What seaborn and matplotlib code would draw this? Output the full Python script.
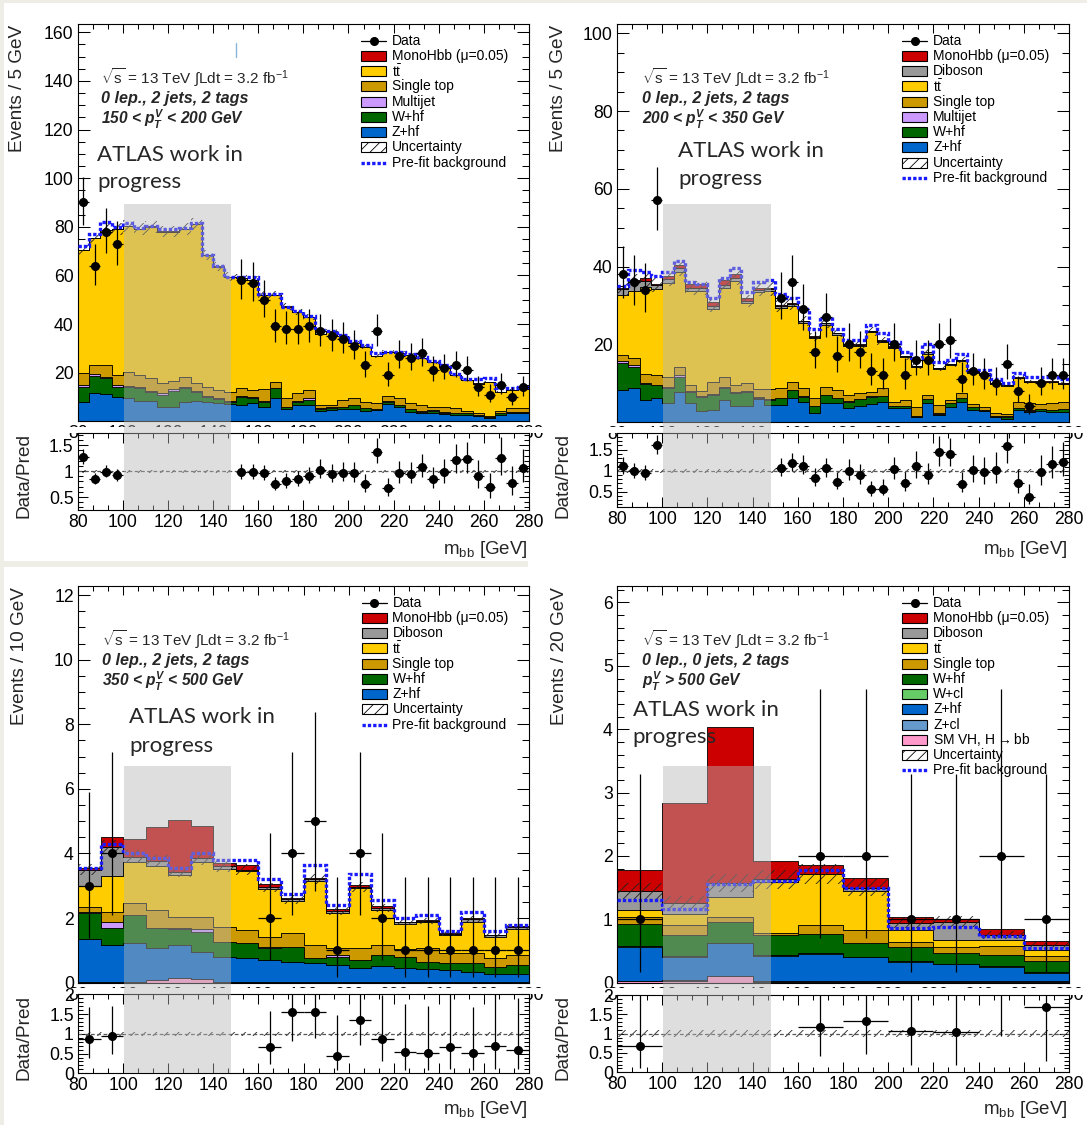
import numpy as np
import pandas as pd
import matplotlib
matplotlib.use("Agg")
import matplotlib.pyplot as plt
import matplotlib.transforms as mtransforms
from matplotlib.patches import Rectangle
from matplotlib.lines import Line2D
from matplotlib.ticker import MultipleLocator, FuncFormatter
import seaborn as sns

nan = np.nan

# ------------------------------------------------------------------
# 150 < pTV < 200 GeV, 5 GeV bins
EDGES_150 = np.arange(80, 281, 5)
ZHF_150 = [8.1, 11.8, 11.2, 9.9, 9.5, 8.5, 8.5, 6.0, 6.0, 8.0, 8.5, 8.0, 7.5, 7.0, 6.7, 7.4, 6.0, 9.7, 4.9, 6.7,
           6.7, 4.4, 4.7, 4.9, 4.9, 4.4, 4.7, 7.1, 6.0, 4.0, 3.3, 3.6, 3.0, 2.6, 2.6, 2.2, 1.2, 2.6, 3.3, 3.3]
WHF_150 = [6.2, 6.8, 6.5, 4.4, 4.5, 5.0, 3.5, 5.0, 6.5, 5.5, 3.5, 2.0, 1.5, 1.0, 3.4, 2.1, 2.1, 3.9, 0.9, 1.4,
           2.1, 0.8, 0.9, 0.9, 1.8, 0.9, 0.2, 1.0, 0.7, 0.9, 0.7, 0.8, 0.6, 0.7, 0.7, 0.4, 0.4, 0.7, 0.5, 0.5]
MJ_150 = [0.8, 0.7, 0.7, 0.6, 0.7, 0.6, 0.5, 0.5, 0.6, 0.6, 0.5, 0.4, 0.4, 0.3, 0.3, 0.3, 0.3, 0.3, 0.2, 0.2,
          0.8, 0.2, 0.2, 0.2, 0.2, 0.2, 0.2, 0.2, 0.2, 0.1, 0.1, 0.1, 0.1, 0.1, 0.1, 0.1, 0.1, 0.1, 0.1, 0.1]
STOP_150 = [4.9, 3.9, 4.8, 4.1, 5.7, 4.9, 5.2, 4.1, 3.6, 4.0, 3.1, 3.9, 3.5, 3.9, 3.2, 3.1, 4.8, 2.4, 3.5, 3.5,
            3.3, 1.3, 0.9, 2.8, 2.6, 2.6, 2.3, 2.1, 2.6, 2.4, 2.6, 1.5, 2.3, 1.9, 1.0, 0.9, 0.3, 1.0, 1.4, 1.4]
TTBAR_150 = [50.5, 52.1, 55.5, 60.0, 59.9, 60.0, 62.3, 62.4, 61.3, 60.9, 65.4, 54.1, 50.7, 47.3, 45.4, 45.1,
             38.8, 35.7, 37.7, 33.2, 30.1, 29.3, 30.2, 26.2, 22.5, 22.6, 19.5, 18.0, 18.5, 19.9, 19.2, 18.5,
             16.5, 13.7, 12.6, 11.9, 14.0, 7.6, 7.7, 7.9]
SIG_150 = [0.05] * 4 + [0.2] * 9 + [0.05] * 27
PREFIT_150 = [72, 77, 82, 80, 81.5, 79.5, 80.5, 79, 79, 79.5, 81.5, 68.5, 64, 59.5, 59.5, 59.5, 52.5, 52.5,
              47, 45.5, 43.5, 37.5, 37, 35.5, 33, 31.5, 28, 28.5, 28.5, 27.5, 26.5, 25, 23, 19.5, 17.5, 17.5,
              17.7, 13.5, 13.5, 14]
DATA_150 = [90, 64, 78, 73] + [nan] * 10 + [58, 57, 50, 39, 38, 38, 39, 37, 35, 34, 31, 23, 37, 19, 27, 26,
                                             28, 21, 22, 23, 21, 14, 11, 15, 10, 14]

# 200 < pTV < 350 GeV, 5 GeV bins
EDGES_200 = np.arange(80, 281, 5)
ZHF_200 = [8.2, 8.7, 5.7, 6.3, 5.0, 7.8, 4.8, 2.9, 3.1, 5.7, 4.1, 4.1, 5.8, 4.4, 4.4, 6.1, 5.2, 2.2, 4.8, 5.0,
           3.5, 4.1, 4.6, 5.2, 3.5, 3.5, 1.4, 4.8, 1.8, 3.9, 5.2, 3.1, 2.9, 1.2, 0.9, 3.1, 2.7, 2.9, 2.7, 2.7]
WHF_200 = [6.9, 5.5, 4.2, 3.2, 3.7, 3.9, 3.0, 3.6, 3.8, 3.0, 3.3, 3.7, 0.5, 1.3, 1.7, 2.1, 1.3, 1.9, 2.1, 1.1,
           1.7, 1.7, 1.9, 1.5, 0.6, 0.6, 0.1, 1.0, 0.3, 0.9, 0.9, 0.7, 0.2, 0.3, 0.5, 0.4, 0.2, 0.4, 0.4, 0.6]
MJ_200 = [0.5, 0.4, 0.1, 0.1, 0.4, 0.3, 0.2, 0.2, 0.2, 0.4, 0.4, 0.2, 0.2, 0.2] + [0.1] * 26
STOP_200 = [1.6, 1.8, 2.3, 2.5, 2.6, 2.1, 1.4, 1.3, 3.1, 2.6, 1.6, 2.0, 2.0, 2.7, 2.5, 2.1, 2.1, 1.9, 2.1, 2.0,
            1.6, 1.6, 1.2, 1.9, 1.0, 1.5, 2.2, 1.0, 2.2, 0.8, 1.3, 0.7, 0.6, 0.8, 0.6, 1.6, 1.8, 1.2, 1.6, 1.8]
TTBAR_200 = [15.5, 17.3, 22.4, 22.2, 24.0, 24.4, 24.3, 25.7, 18.9, 22.8, 26.8, 20.6, 24.9, 25.1, 20.7, 19.5,
             16.8, 15.4, 15.9, 14.3, 12.7, 12.1, 15.3, 11.9, 13.9, 10.9, 10.3, 10.7, 9.3, 9.0, 8.2, 8.1, 8.4,
             7.3, 7.1, 6.0, 5.4, 5.6, 5.4, 4.5]
DIB_200 = [1.5, 2.5, 1.5, 1.0, 1.0, 1.0, 0.8, 0.8, 0.7, 0.8, 0.8, 0.6, 0.6, 0.5, 0.5, 0.5, 0.4, 0.4, 0.4, 0.4,
           0.3, 0.3, 0.3, 0.3, 0.3, 0.3, 0.3, 0.3, 0.2, 0.2, 0.2, 0.2, 0.2, 0.2, 0.2, 0.2, 0.2, 0.2, 0.2, 0.2]
SIG_200 = [0.2, 0.3, 0.8, 0.2, 0.8, 1.0, 1.0, 1.0, 1.2, 1.2, 1.0, 0.8, 0.5, 0.3] + [0.1] * 26
PREFIT_200 = [35, 39, 38.5, 37.5, 38.5, 41.5, 36, 35.5, 32, 37, 39.5, 33.5, 36, 36.5, 33, 32, 29, 24, 27, 24,
              21, 21, 25, 23, 20.5, 18, 16.5, 20, 15.5, 16, 17.5, 13.5, 13.5, 11, 10, 12.5, 11.5, 11.5, 11.5, 11]
DATA_200 = [38, 36, 34, 57] + [nan] * 10 + [32, 36, 29, 18, 27, 17, 20, 18, 13, 12, 20, 12, 16, 16, 20, 21,
                                             11, 13, 12, 10, 15, 8, 4, 10, 12, 12]

# 350 < pTV < 500 GeV, 10 GeV bins
EDGES_350 = np.arange(80, 281, 10)
VH_350 = [0.02, 0.02, 0.03, 0.08, 0.15, 0.12, 0.03, 0.02] + [0.01] * 12
ZHF_350 = [1.32, 1.15, 1.19, 0.98, 1.02, 0.84, 0.77, 0.76, 0.69, 0.64, 0.59, 0.54, 0.43, 0.51, 0.46, 0.40,
           0.38, 0.33, 0.26, 0.26]
WHF_350 = [0.81, 0.51, 0.87, 0.62, 0.48, 0.62, 0.47, 0.44, 0.36, 0.46, 0.15, 0.25, 0.26, 0.34, 0.33, 0.24,
           0.23, 0.26, 0.23, 0.28]
MJ_350 = [0.05, 0.2, 0, 0, 0.03, 0.08, 0, 0, 0.05, 0, 0, 0.05, 0, 0, 0, 0, 0, 0, 0, 0]
STOP_350 = [0.15, 0.32, 0.37, 0.57, 0.36, 0.38, 0.46, 0.41, 0.31, 0.42, 0.42, 0.21, 0.36, 0.31, 0.23, 0.41,
            0.31, 0.31, 0.25, 0.31]
TTBAR_350 = [0.65, 1.1, 1.29, 1.37, 1.3, 1.71, 1.78, 1.82, 1.48, 1.0, 1.98, 1.11, 1.86, 1.07, 0.79, 0.81,
             0.54, 0.98, 0.67, 0.81]
DIB_350 = [0.5, 0.9, 0.15, 0.15, 0.1, 0.1, 0.1, 0.05, 0.05, 0.05, 0.05, 0.05, 0.05, 0.08, 0.05, 0.05, 0.05,
           0.08, 0.05, 0.05]
SIG_350 = [0.05, 0.3, 0.55, 1.05, 1.6, 1.0, 0.1, 0.15, 0.1, 0.05, 0.05, 0.05, 0.05, 0.05, 0.02, 0.02, 0.02,
           0.02, 0.02, 0.02]
PREFIT_350 = [3.55, 4.3, 4.0, 3.85, 3.55, 4.0, 3.8, 3.8, 3.2, 2.75, 3.65, 2.4, 3.35, 2.55, 2.0, 2.1, 1.6, 2.2,
              1.6, 1.8]
DATA_350 = [3, 4, nan, nan, nan, nan, nan, 0, 2, 4, 5, 1, 4, 2, 1, 1, 1, 1, 1, 1]

# pTV > 500 GeV, 20 GeV bins
EDGES_500 = np.arange(80, 281, 20)
VH_500 = [0.02, 0.03, 0.10, 0.01, 0.01, 0.01, 0.01, 0.01, 0.01, 0.01]
ZCL_500 = [0.01] * 10
ZHF_500 = [0.54, 0.37, 0.51, 0.40, 0.44, 0.38, 0.31, 0.27, 0.23, 0.14]
WCL_500 = [0.01] * 10
WHF_500 = [0.35, 0.33, 0.32, 0.32, 0.30, 0.22, 0.23, 0.17, 0.18, 0.18]
STOP_500 = [0.11, 0.16, 0.08, 0.03, 0.14, 0.20, 0.08, 0.09, 0.14, 0.07]
TTBAR_500 = [0.11, 0.18, 0.33, 0.81, 0.80, 0.61, 0.18, 0.12, 0.10, 0.10]
DIB_500 = [0.30, 0.16, 0.21, 0.04, 0.01, 0.06, 0.11, 0.28, 0.07, 0.07]
SIG_500 = [0.33, 1.58, 2.46, 0.29, 0.14, 0.15, 0.09, 0.05, 0.09, 0.07]
PREFIT_500 = [1.3, 1.17, 1.55, 1.6, 1.78, 1.49, 0.87, 0.88, 0.73, 0.54]
DATA_500 = [1, nan, nan, 0, 2, 2, 1, 1, 2, 1]

BLIND = (100.5, 148.0)

COLORS = {"MonoHbb": "#cc0000", "Diboson": "#999999", "ttbar": "#ffcc00", "Single top": "#cc9900",
          "Multijet": "#cc99ff", "W+hf": "#006600", "W+cl": "#66cc66", "Z+hf": "#0066cc",
          "Z+cl": "#6699cc", "SM VH": "#ff99cc"}
LABELS = {"MonoHbb": "MonoHbb (\u03bc=0.05)", "Diboson": "Diboson", "ttbar": r"$\mathrm{t\bar{t}}$",
          "Single top": "Single top", "Multijet": "Multijet", "W+hf": "W+hf", "W+cl": "W+cl",
          "Z+hf": "Z+hf", "Z+cl": "Z+cl", "SM VH": r"SM VH, H$\rightarrow$bb"}
PREFIT_COLOR = "#1a1aff"
BEIGE = "#efeee6"
GRAY_OVERLAY = "#b6b6b6"

sns.set_theme(style="white")
plt.rcParams["font.family"] = ["Liberation Sans", "DejaVu Sans"]
plt.rcParams["mathtext.fontset"] = "custom"
plt.rcParams["mathtext.rm"] = "Liberation Sans"
plt.rcParams["mathtext.it"] = "Liberation Sans:italic:bold"
plt.rcParams["mathtext.bf"] = "Liberation Sans:bold"
plt.rcParams["hatch.linewidth"] = 0.6

W, H = 1087, 1125
fig = plt.figure(figsize=(W / 100, H / 100), dpi=100)
fig.patch.set_facecolor("white")


def fx(x):
    return x / W


def fy(y):
    return 1 - y / H


def rect(l, r, t, b):
    return [l / W, 1 - b / H, (r - l) / W, (b - t) / H]


def poisson_interval(n):
    n = np.asarray(n, float)
    m = np.maximum(n, 1)
    lo = np.where(n > 0, n * (1 - 1 / (9 * m) - 1 / (3 * np.sqrt(m))) ** 3, 0.0)
    hi = (n + 1) * (1 - 1 / (9 * (n + 1)) + 1 / (3 * np.sqrt(n + 1))) ** 3
    return lo, hi


def draw_stack(ax, edges, procs):
    centers = 0.5 * (edges[:-1] + edges[1:])
    frames = [pd.DataFrame({"process": name, "mbb": centers, "events": np.asarray(vals, float)})
              for name, vals in procs]
    df = pd.concat(frames, ignore_index=True)
    order = [name for name, _ in procs]
    sns.histplot(data=df, x="mbb", weights="events", hue="process", hue_order=order,
                 multiple="stack", bins=[float(e) for e in edges], element="step", fill=True, alpha=1,
                 palette={n: COLORS[n] for n in order}, edgecolor="black", linewidth=0.6,
                 legend=False, ax=ax)
    ax.set_xlabel("")
    ax.set_ylabel("")


def style_ticks(ax, xlen, ylen):
    ax.xaxis.set_major_locator(MultipleLocator(20))
    ax.xaxis.set_minor_locator(MultipleLocator(20 / 3))
    ax.tick_params(which="both", direction="in", top=True, bottom=True, left=True, right=True,
                   colors="black", width=0.75, labelsize=12.7)
    ax.tick_params(axis="x", which="major", length=xlen[0], pad=3)
    ax.tick_params(axis="x", which="minor", length=xlen[1])
    ax.tick_params(axis="y", which="major", length=ylen[0], pad=3)
    ax.tick_params(axis="y", which="minor", length=ylen[1])
    fmt = FuncFormatter(lambda v, p: f"{v:g}")
    ax.xaxis.set_major_formatter(fmt)
    ax.yaxis.set_major_formatter(fmt)
    for s in ax.spines.values():
        s.set_color("black")
        s.set_linewidth(0.8)
        s.set_visible(True)


def draw_legend(x0, y0, entries, step=15.25):
    for i, (kind, key) in enumerate(entries):
        yc = y0 + i * step
        if kind == "data":
            fig.add_artist(Line2D([fx(x0), fx(x0 + 25)], [fy(yc), fy(yc)], color="black", lw=0.9))
            fig.add_artist(Line2D([fx(x0 + 12.5)], [fy(yc)], marker="o", color="black", ms=5.5))
            label = "Data"
        elif kind == "fill":
            fig.add_artist(Rectangle((fx(x0), fy(yc + 5)), 25 / W, 10 / H, facecolor=COLORS[key],
                                     edgecolor="black", lw=0.8))
            label = LABELS[key]
        elif kind == "unc":
            fig.add_artist(Rectangle((fx(x0), fy(yc + 5)), 25 / W, 10 / H, facecolor="white",
                                     edgecolor="black", hatch="///", lw=0.8))
            label = "Uncertainty"
        else:
            fig.add_artist(Line2D([fx(x0), fx(x0 + 25)], [fy(yc), fy(yc)], color=PREFIT_COLOR,
                                  lw=2.4, ls=(0, (1.0, 0.6))))
            label = "Pre-fit background"
        fig.text(fx(x0 + 31), fy(yc), label, fontsize=10, va="center", ha="left", color="black")


panels = [
    dict(edges=EDGES_150,
         procs=[("MonoHbb", SIG_150), ("ttbar", TTBAR_150), ("Single top", STOP_150),
                ("Multijet", MJ_150), ("W+hf", WHF_150), ("Z+hf", ZHF_150)],
         data=DATA_150, prefit=PREFIT_150, unc=0.03,
         main=(77.7, 529, 24, 421.3), ratio=(433.3, 510), cover=(4, 545, 426.5),
         ylim=(0, 163.4), yticks=np.arange(20, 161, 20), yminor=5, rlim=(0.25, 1.73),
         rticks=[0.5, 1, 1.5], blind_top=89.4,
         legend=(361, 40.7, [("data", None), ("fill", "MonoHbb"), ("fill", "ttbar"),
                             ("fill", "Single top"), ("fill", "Multijet"), ("fill", "W+hf"),
                             ("fill", "Z+hf"), ("unc", None), ("line", None)]),
         info=(100.8, [77, 98.3, 119.3], "0 lep., 2 jets, 2 tags", r"150 < $p_T^V$ < 200 GeV"),
         atlas=(97.3, 160.7, 188.3),
         ytitle=("Events / 5 GeV", 18, 25), rtitle=(23.5, 433), xtitle=(528, 550)),
    dict(edges=EDGES_200,
         procs=[("MonoHbb", SIG_200), ("Diboson", DIB_200), ("ttbar", TTBAR_200),
                ("Single top", STOP_200), ("Multijet", MJ_200), ("W+hf", WHF_200), ("Z+hf", ZHF_200)],
         data=DATA_200, prefit=PREFIT_200, unc=0.05,
         main=(617, 1069, 24, 422), ratio=(433.3, 507.3), cover=(545, 1087, 427),
         ylim=(0, 102.4), yticks=np.arange(20, 101, 20), yminor=5, rlim=(0.13, 1.89),
         rticks=[0.5, 1, 1.5], blind_top=56.1,
         legend=(902, 40.7, [("data", None), ("fill", "MonoHbb"), ("fill", "Diboson"),
                             ("fill", "ttbar"), ("fill", "Single top"), ("fill", "Multijet"),
                             ("fill", "W+hf"), ("fill", "Z+hf"), ("unc", None), ("line", None)]),
         info=(642.3, [77, 98.3, 119.3], "0 lep., 2 jets, 2 tags", r"200 < $p_T^V$ < 350 GeV"),
         atlas=(678, 157.3, 185),
         ytitle=("Events / 5 GeV", 558.4, 25), rtitle=(563, 433), xtitle=(1068, 550)),
    dict(edges=EDGES_350,
         procs=[("MonoHbb", SIG_350), ("Diboson", DIB_350), ("ttbar", TTBAR_350),
                ("Single top", STOP_350), ("Multijet", MJ_350), ("W+hf", WHF_350), ("Z+hf", ZHF_350),
                ("SM VH", VH_350)],
         data=DATA_350, prefit=PREFIT_350, unc=0.05,
         main=(78, 529, 586, 982.7), ratio=(994.3, 1073.3), cover=(4, 545, 988),
         ylim=(0, 12.28), yticks=np.arange(0, 13, 2), yminor=0.5, rlim=(0, 2),
         rticks=[0, 0.5, 1, 1.5, 2], blind_top=6.71,
         legend=(361.5, 602.7, [("data", None), ("fill", "MonoHbb"), ("fill", "Diboson"),
                                ("fill", "ttbar"), ("fill", "Single top"), ("fill", "W+hf"),
                                ("fill", "Z+hf"), ("unc", None), ("line", None)]),
         info=(102.5, [639, 660.3, 681.7], "0 lep., 2 jets, 2 tags", r"350 < $p_T^V$ < 500 GeV"),
         atlas=(129.3, 723.3, 751.7),
         ytitle=("Events / 10 GeV", 19.7, 587), rtitle=(23.5, 995), xtitle=(528, 1110)),
    dict(edges=EDGES_500,
         procs=[("MonoHbb", SIG_500), ("Diboson", DIB_500), ("ttbar", TTBAR_500),
                ("Single top", STOP_500), ("W+hf", WHF_500), ("W+cl", WCL_500), ("Z+hf", ZHF_500),
                ("Z+cl", ZCL_500), ("SM VH", VH_500)],
         data=DATA_500, prefit=PREFIT_500, unc=0.09,
         main=(617, 1069, 586, 982.7), ratio=(995, 1072.3), cover=(545, 1087, 988),
         ylim=(0, 6.26), yticks=np.arange(0, 7, 1), yminor=0.2, rlim=(0, 2),
         rticks=[0, 0.5, 1, 1.5, 2], blind_top=3.42,
         legend=(902, 602.7, [("data", None), ("fill", "MonoHbb"), ("fill", "Diboson"),
                              ("fill", "ttbar"), ("fill", "Single top"), ("fill", "W+hf"),
                              ("fill", "W+cl"), ("fill", "Z+hf"), ("fill", "Z+cl"), ("fill", "SM VH"),
                              ("unc", None), ("line", None)]),
         info=(642.3, [639, 660.3, 681.7], "0 lep., 0 jets, 2 tags", r"$p_T^V$ > 500 GeV"),
         atlas=(632.6, 715.7, 743.3),
         ytitle=("Events / 20 GeV", 559, 587), rtitle=(563, 995), xtitle=(1068, 1110)),
]

# page frame
fig.add_artist(Rectangle((0, 0), fx(3.5), 1, facecolor=BEIGE, edgecolor="none", zorder=0.2))
fig.add_artist(Rectangle((0, fy(3)), 1, 3 / H, facecolor=BEIGE, edgecolor="none", zorder=0.2))
fig.add_artist(Rectangle((0, fy(567)), fx(528), 6 / H, facecolor=BEIGE, edgecolor="none", zorder=0.2))

for p in panels:
    edges = p["edges"]
    l, r, t, b = p["main"]
    axm = fig.add_axes(rect(l, r, t, b))
    axr = fig.add_axes(rect(l, r, p["ratio"][0], p["ratio"][1]), sharex=axm)
    axm.set_zorder(0)
    axr.set_zorder(1)
    axm.set_facecolor("white")
    axr.set_facecolor("white")

    draw_stack(axm, edges, p["procs"])
    bkg = np.sum([np.asarray(v, float) for n, v in p["procs"] if n != "MonoHbb"], axis=0)
    lo_b, hi_b = bkg * (1 - p["unc"]), bkg * (1 + p["unc"])
    axm.fill_between(edges, np.append(lo_b, lo_b[-1]), np.append(hi_b, hi_b[-1]), step="post",
                     facecolor="none", edgecolor="#222222", hatch="///", linewidth=0, zorder=3)
    axm.stairs(p["prefit"], edges, color=PREFIT_COLOR, linewidth=2.4, linestyle=(0, (1.0, 0.6)),
               baseline=None, zorder=4)

    counts = np.asarray(p["data"], float)
    show = np.isfinite(counts) & (counts > 0)
    lo, hi = poisson_interval(np.where(show, counts, 1))
    centers = 0.5 * (edges[:-1] + edges[1:])
    half = 0.5 * np.diff(edges)
    axm.errorbar(centers[show], counts[show], xerr=half[show],
                 yerr=[counts[show] - lo[show], hi[show] - counts[show]], fmt="o", color="black",
                 ms=5.5, elinewidth=0.9, capsize=0, zorder=5)

    ratio = counts / bkg
    axr.fill_between(edges, np.full(len(edges), 1 - p["unc"]), np.full(len(edges), 1 + p["unc"]),
                     step="post", facecolor="none", edgecolor="#222222", hatch="///", linewidth=0,
                     zorder=2)
    axr.axhline(1, color="#555555", lw=0.9, ls=(0, (3, 2)), zorder=2)
    axr.errorbar(centers[show], ratio[show], xerr=half[show],
                 yerr=[(counts[show] - lo[show]) / bkg[show], (hi[show] - counts[show]) / bkg[show]],
                 fmt="o", color="black", ms=5.5, elinewidth=0.9, capsize=0, zorder=5)

    axm.set_xlim(80, 280)
    axm.set_ylim(*p["ylim"])
    axr.set_ylim(*p["rlim"])
    style_ticks(axm, (6.5, 3.6), (8.6, 5.0))
    style_ticks(axr, (7.2, 3.6), (7.2, 3.6))
    axm.set_yticks(p["yticks"])
    axm.yaxis.set_minor_locator(MultipleLocator(p["yminor"]))
    axr.set_yticks(p["rticks"])
    axr.yaxis.set_minor_locator(MultipleLocator(0.1))
    axm.tick_params(axis="x", labelbottom=True)
    axm.set_xlabel("")
    axr.set_xlabel("")
    axr.set_ylabel("")

    # lower pad hides the bottom of the upper pad's labels
    cx0, cx1, cy = p["cover"]
    fig.add_artist(Rectangle((fx(cx0), fy(p["ratio"][0])), (cx1 - cx0) / W, (p["ratio"][0] - cy) / H,
                             facecolor="white", edgecolor="none", zorder=0.5))

    # blinded signal window
    trans = mtransforms.blended_transform_factory(axm.transData, fig.transFigure)
    ytop = fig.transFigure.inverted().transform(axm.transData.transform((100, p["blind_top"])))[1]
    ybot = axr.get_position().y0
    fig.add_artist(Rectangle((BLIND[0], ybot), BLIND[1] - BLIND[0], ytop - ybot, transform=trans,
                             facecolor=GRAY_OVERLAY, alpha=0.45, edgecolor="none", zorder=3))

    # legend, labels and annotations
    draw_legend(*p["legend"])
    ix, iys, line2, line3 = p["info"]
    fig.text(fx(ix), fy(iys[0]), "$\\sqrt{\\mathrm{s}}$ = 13 TeV \u222bLdt = 3.2 fb$^{-1}$",
             fontsize=11, va="center", ha="left")
    fig.text(fx(ix), fy(iys[1]), line2, fontsize=11.6, va="center", ha="left", style="italic",
             weight="bold")
    fig.text(fx(ix), fy(iys[2]), line3, fontsize=11.2, va="center", ha="left", style="italic",
             weight="bold")
    ax_, b1, b2 = p["atlas"]
    fig.text(fx(ax_), fy(b1), "ATLAS work in", fontsize=16, family="Lato", va="baseline",
             ha="left", zorder=4)
    fig.text(fx(ax_), fy(b2), "progress", fontsize=16, family="Lato", va="baseline", ha="left",
             zorder=4)

    yt, ytx, yty = p["ytitle"]
    fig.text(fx(ytx), fy(yty), yt, rotation=90, fontsize=13.7, ha="center", va="top")
    fig.text(fx(p["rtitle"][0]), fy(p["rtitle"][1]), "Data/Pred", rotation=90, fontsize=13.7,
             ha="center", va="top")
    fig.text(fx(p["xtitle"][0]), fy(p["xtitle"][1]), r"m$_{\mathrm{bb}}$ [GeV]", fontsize=13.5,
             ha="right", va="center")

# stray cursor mark in the first panel
fig.add_artist(Line2D([fx(236), fx(236)], [fy(43), fy(57)], color="#8ab4d8", lw=1.0, zorder=4))

fig.savefig("out.png", dpi=100, facecolor=fig.get_facecolor())
